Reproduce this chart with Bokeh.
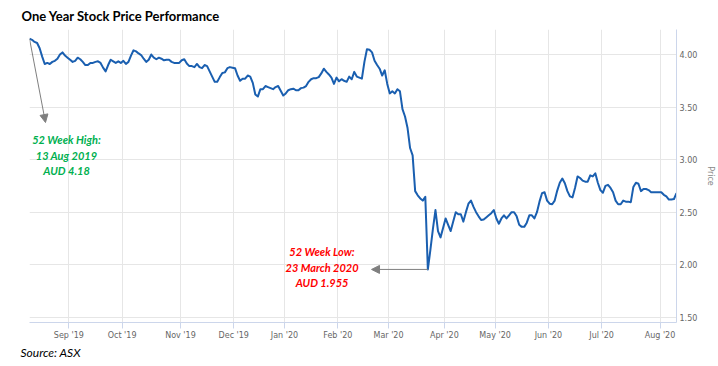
import numpy as np
import pandas as pd
from bokeh.plotting import figure
from bokeh.models import (ColumnDataSource, Range1d, FixedTicker, NumeralTickFormatter,
                          Label, Arrow, NormalHead, Title)
from bokeh.embed import file_html
from bokeh.resources import INLINE

# ---------------- data ----------------
title_text = "One Year Stock Price Performance"
source_text = "Source: ASX"
axis_title = "Price"

asx_holidays = ["2019-12-25", "2019-12-26", "2020-01-01", "2020-01-27",
                "2020-04-10", "2020-04-13", "2020-06-08"]
trade_dates = [d for d in pd.bdate_range("2019-08-12", "2020-08-12")
               if d.strftime("%Y-%m-%d") not in asx_holidays]

price_aud = [
    # Aug - Oct 2019
    4.15, 4.14, 4.12, 4.11, 4.06, 3.98, 3.91, 3.92, 3.91, 3.93,
    3.94, 3.96, 4.00, 4.02, 3.99, 3.97, 3.95, 3.93, 3.94, 3.97,
    3.955, 3.93, 3.90, 3.90, 3.92, 3.92, 3.93, 3.935, 3.92, 3.875,
    3.84, 3.90, 3.95, 3.935, 3.92, 3.935, 3.92, 3.94, 3.91, 3.93,
    3.99, 4.04, 4.03, 4.01, 3.995, 3.96, 3.93, 3.95, 4.00, 3.97,
    3.955, 3.97,
    # Oct 2019 - Jan 2020
    3.96, 3.945, 3.95, 3.95, 3.93, 3.92, 3.92, 3.92, 3.945, 3.955,
    3.915, 3.89, 3.89, 3.88, 3.91, 3.88, 3.87, 3.90, 3.89, 3.84,
    3.79, 3.74, 3.74, 3.785, 3.825, 3.83, 3.87, 3.88, 3.875, 3.87,
    3.80, 3.75, 3.77, 3.77, 3.80, 3.79, 3.73, 3.62, 3.60, 3.67,
    3.67, 3.70, 3.69, 3.68, 3.67, 3.69, 3.70, 3.655, 3.61, 3.63,
    3.66,
    # Jan - Mar 2020
    3.67, 3.675, 3.66, 3.66, 3.68, 3.685, 3.70, 3.74, 3.765, 3.775,
    3.775, 3.785, 3.82, 3.865, 3.835, 3.81, 3.78, 3.72, 3.78, 3.745,
    3.765, 3.75, 3.74, 3.79, 3.765, 3.835, 3.79, 3.78, 3.77, 3.93,
    4.05, 4.045, 4.02, 3.94, 3.90, 3.865, 3.80, 3.85, 3.72, 3.63,
    3.65, 3.63, 3.67, 3.65, 3.48, 3.41, 3.30, 3.11, 3.04, 2.70,
    2.66, 2.63, 2.61,
    # Mar - May 2020
    2.645, 1.955, 2.14, 2.34, 2.52, 2.32, 2.26, 2.35, 2.44, 2.38,
    2.32, 2.41, 2.50, 2.48, 2.48, 2.41, 2.50, 2.58, 2.61, 2.55,
    2.50, 2.46, 2.425, 2.43, 2.45, 2.47, 2.49, 2.52, 2.44, 2.39,
    2.44, 2.47, 2.44, 2.47, 2.50, 2.50, 2.46, 2.38, 2.36, 2.36,
    2.40, 2.47, 2.47, 2.44, 2.50, 2.60, 2.68, 2.69, 2.61, 2.58,
    # Jun - Aug 2020
    2.575, 2.61, 2.705, 2.78, 2.82, 2.775, 2.70, 2.65, 2.64, 2.73,
    2.84, 2.825, 2.80, 2.79, 2.79, 2.85, 2.84, 2.87, 2.78, 2.71,
    2.685, 2.75, 2.76, 2.73, 2.69, 2.61, 2.575, 2.575, 2.61, 2.60,
    2.60, 2.595, 2.74, 2.78, 2.77, 2.70, 2.72, 2.72, 2.71, 2.69,
    2.69, 2.69, 2.69, 2.69, 2.665, 2.65, 2.62, 2.62, 2.625, 2.68,
]

high_note = ["52 Week High:", "13 Aug 2019", "AUD 4.18"]
low_note = ["52 Week Low:", "23 March 2020", "AUD 1.955"]
y_ticks = [1.5, 2.0, 2.5, 3.0, 3.5, 4.0]

# ---------------- build ----------------
n = len(trade_dates)
idx = np.arange(n)
src = ColumnDataSource(dict(x=idx, price=price_aud,
                            date=[d.strftime("%Y-%m-%d") for d in trade_dates]))

month_ticks = []
month_labels = {}
for i in range(1, n):
    if trade_dates[i].month != trade_dates[i - 1].month:
        t = i + 0.5
        month_ticks.append(t)
        month_labels[t] = trade_dates[i].strftime("%b '%y")

p = figure(width=718, height=366, output_backend="svg", toolbar_location=None,
           x_range=Range1d(0, n - 1), y_range=Range1d(1.45, 4.238),
           y_axis_location="right", title=title_text,
           min_border_left=29, min_border_right=41,
           min_border_top=29, min_border_bottom=44)
p.outline_line_color = None
p.background_fill_color = "white"
p.border_fill_color = "white"

# title above, source below
p.title.text_font = "Lato"
p.title.text_font_style = "bold"
p.title.text_font_size = "13px"
p.title.text_color = "#000000"
p.title.align = "left"
p.title.offset = -8
p.title.standoff = 11

p.line("x", "price", source=src, line_color="#1a5fb0", line_width=2,
       line_join="round")

axis_col = "#ccd6eb"
tick_font = "DejaVu Sans"

xa = p.xaxis[0]
xa.ticker = FixedTicker(ticks=month_ticks)
xa.major_label_overrides = month_labels
xa.axis_line_color = axis_col
xa.major_tick_line_color = axis_col
xa.major_tick_out = 6
xa.major_tick_in = 0
xa.minor_tick_line_color = None
xa.major_label_text_font = tick_font
xa.major_label_text_font_size = "8px"
xa.major_label_text_color = "#666666"
xa.major_label_standoff = 2

ya = p.yaxis[0]
ya.ticker = FixedTicker(ticks=y_ticks)
ya.formatter = NumeralTickFormatter(format="0.00")
ya.axis_line_color = axis_col
ya.major_tick_line_color = None
ya.major_tick_out = 0
ya.major_tick_in = 0
ya.minor_tick_line_color = None
ya.major_label_text_font = tick_font
ya.major_label_text_font_size = "8px"
ya.major_label_text_color = "#666666"
ya.major_label_standoff = 3
ya.axis_label = axis_title
ya.axis_label_text_font = tick_font
ya.axis_label_text_font_size = "8px"
ya.axis_label_text_font_style = "normal"
ya.axis_label_text_color = "#888888"
ya.axis_label_standoff = 6

p.xgrid.grid_line_color = "#e6e6e6"
p.ygrid.grid_line_color = "#e6e6e6"

p.add_layout(Title(text=source_text, text_font="Lato", text_font_style="italic",
                   text_font_size="12px", text_color="#000000", align="left",
                   offset=-9, standoff=0), "below")

# annotations
hi_i = 0
lo_i = int(np.argmin(price_aud))
grey = "#7f7f7f"
p.add_layout(Arrow(x_start=hi_i, y_start=price_aud[hi_i], x_end=6.3, y_end=3.353,
                   line_color=grey, line_width=1,
                   end=NormalHead(size=8, fill_color=grey, line_color=grey)))
p.add_layout(Arrow(x_start=lo_i, y_start=price_aud[lo_i], x_end=134.8, y_end=price_aud[lo_i],
                   line_color=grey, line_width=1,
                   end=NormalHead(size=8, fill_color=grey, line_color=grey)))

for txt, yy in zip(high_note, [3.191, 3.039, 2.896]):
    p.add_layout(Label(x=14.6, y=yy, text=txt, text_font="Lato",
                       text_font_style="bold italic", text_font_size="11px",
                       text_color="#00b050", text_align="center", text_baseline="middle"))
for txt, yy in zip(low_note, [2.126, 1.973, 1.830]):
    p.add_layout(Label(x=115.3, y=yy, text=txt, text_font="Lato",
                       text_font_style="bold italic", text_font_size="11px",
                       text_color="#ff0000", text_align="center", text_baseline="middle"))

open("out.html", "w").write(file_html(p, INLINE))
